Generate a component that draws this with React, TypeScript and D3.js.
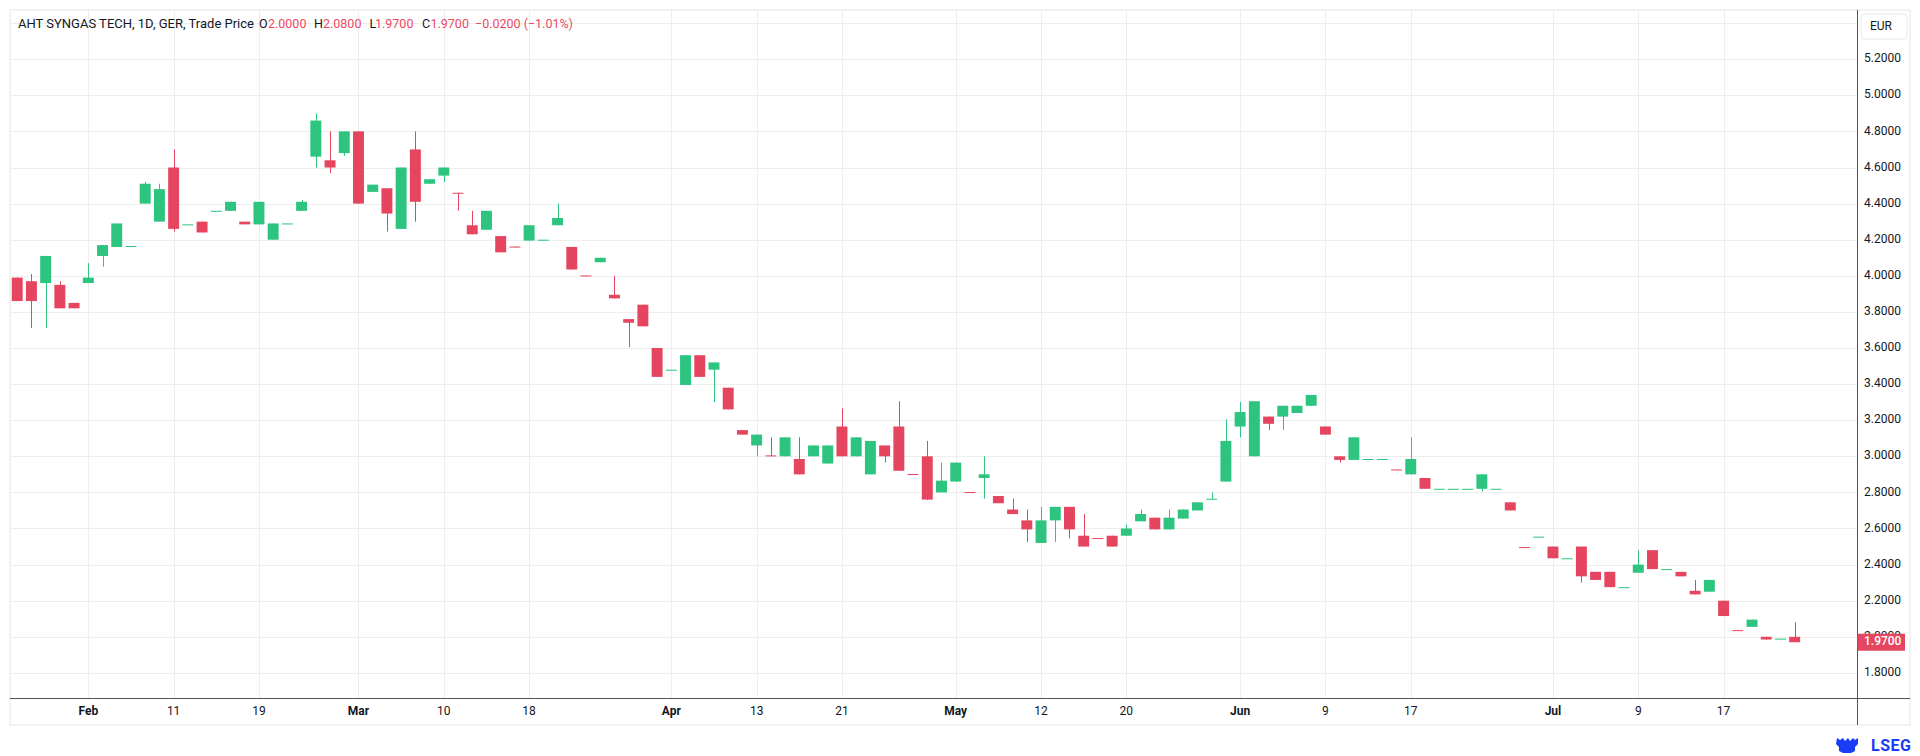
import { useEffect, useRef } from "react";
import * as d3 from "d3";

// daily candles, oldest first
const open = [
  3.99, 3.97, 3.96, 3.95, 3.85, 3.96, 4.11, 4.16, 4.165, 4.40,
  4.30, 4.60, 4.285, 4.30, 4.36, 4.36, 4.30, 4.285, 4.20, 4.29,
  4.36, 4.66, 4.64, 4.68, 4.80, 4.465, 4.485, 4.26, 4.70, 4.51,
  4.555, 4.46, 4.28, 4.255, 4.22, 4.162, 4.195, 4.20, 4.28, 4.16,
  4.002, 4.075, 3.895, 3.76, 3.84, 3.60, 3.48, 3.395, 3.56, 3.48,
  3.38, 3.145, 3.06, 3.005, 3.0, 2.985, 3.0, 2.96, 3.165, 3.0,
  2.90, 3.06, 3.165, 2.902, 3.0, 2.80, 2.86, 2.802, 2.88, 2.78,
  2.705, 2.645, 2.52, 2.645, 2.72, 2.56, 2.547, 2.56, 2.56, 2.64,
  2.66, 2.595, 2.655, 2.70, 2.76, 2.86, 3.165, 3.0, 3.22, 3.22,
  3.24, 3.28, 3.165, 3.0, 2.98, 2.985, 2.985, 2.927, 2.90, 2.88,
  2.82, 2.82, 2.82, 2.82, 2.82, 2.745, 2.497, 2.555, 2.50, 2.435,
  2.50, 2.36, 2.36, 2.275, 2.355, 2.48, 2.375, 2.36, 2.255, 2.25,
  2.20, 2.037, 2.055, 2.0, 1.99, 2.0,
];
const high = [
  3.99, 4.01, 4.11, 3.97, 3.85, 4.07, 4.17, 4.29, 4.165, 4.52,
  4.51, 4.70, 4.285, 4.30, 4.36, 4.41, 4.30, 4.41, 4.29, 4.29,
  4.42, 4.90, 4.80, 4.80, 4.80, 4.505, 4.485, 4.60, 4.80, 4.535,
  4.60, 4.46, 4.36, 4.36, 4.22, 4.162, 4.28, 4.20, 4.40, 4.16,
  4.002, 4.10, 4.0, 3.76, 3.84, 3.60, 3.48, 3.56, 3.56, 3.52,
  3.38, 3.145, 3.12, 3.105, 3.105, 3.105, 3.06, 3.06, 3.265, 3.105,
  3.085, 3.06, 3.305, 2.902, 3.085, 2.965, 2.965, 2.802, 3.0, 2.78,
  2.765, 2.705, 2.72, 2.72, 2.72, 2.68, 2.547, 2.56, 2.62, 2.705,
  2.66, 2.705, 2.705, 2.745, 2.80, 3.205, 3.30, 3.305, 3.22, 3.28,
  3.28, 3.34, 3.165, 3.0, 3.105, 2.985, 2.985, 2.927, 3.105, 2.88,
  2.82, 2.82, 2.82, 2.90, 2.82, 2.745, 2.497, 2.555, 2.50, 2.435,
  2.50, 2.36, 2.36, 2.275, 2.48, 2.48, 2.375, 2.36, 2.315, 2.315,
  2.20, 2.037, 2.095, 2.0, 1.99, 2.08,
];
const low = [
  3.86, 3.71, 3.71, 3.82, 3.82, 3.96, 4.05, 4.16, 4.165, 4.40,
  4.30, 4.245, 4.285, 4.24, 4.36, 4.36, 4.285, 4.285, 4.20, 4.29,
  4.36, 4.60, 4.57, 4.665, 4.40, 4.465, 4.245, 4.26, 4.30, 4.51,
  4.52, 4.36, 4.23, 4.255, 4.13, 4.157, 4.195, 4.20, 4.28, 4.035,
  4.0, 4.075, 3.875, 3.605, 3.72, 3.44, 3.48, 3.395, 3.44, 3.30,
  3.26, 3.12, 3.0, 3.0, 3.0, 2.90, 3.0, 2.96, 3.0, 3.0,
  2.90, 2.965, 2.92, 2.90, 2.76, 2.80, 2.86, 2.80, 2.765, 2.74,
  2.68, 2.525, 2.52, 2.525, 2.545, 2.50, 2.543, 2.50, 2.56, 2.64,
  2.595, 2.595, 2.655, 2.70, 2.76, 2.86, 3.105, 3.0, 3.145, 3.145,
  3.24, 3.28, 3.12, 2.965, 2.98, 2.985, 2.985, 2.923, 2.90, 2.82,
  2.82, 2.82, 2.82, 2.805, 2.82, 2.70, 2.493, 2.555, 2.435, 2.435,
  2.30, 2.315, 2.275, 2.275, 2.355, 2.375, 2.375, 2.335, 2.235, 2.25,
  2.115, 2.033, 2.055, 1.985, 1.99, 1.97,
];
const close = [
  3.86, 3.86, 4.11, 3.82, 3.82, 3.99, 4.17, 4.29, 4.165, 4.51,
  4.48, 4.26, 4.285, 4.24, 4.36, 4.41, 4.285, 4.41, 4.29, 4.29,
  4.41, 4.86, 4.60, 4.80, 4.40, 4.505, 4.345, 4.60, 4.41, 4.535,
  4.60, 4.455, 4.23, 4.36, 4.13, 4.157, 4.28, 4.20, 4.32, 4.035,
  4.0, 4.10, 3.875, 3.74, 3.72, 3.44, 3.48, 3.56, 3.44, 3.52,
  3.26, 3.12, 3.12, 3.0, 3.105, 2.90, 3.06, 3.06, 3.0, 3.105,
  3.085, 3.0, 2.92, 2.90, 2.76, 2.865, 2.965, 2.80, 2.90, 2.74,
  2.68, 2.595, 2.645, 2.72, 2.595, 2.50, 2.543, 2.50, 2.60, 2.68,
  2.595, 2.66, 2.705, 2.745, 2.765, 3.085, 3.245, 3.305, 3.18, 3.28,
  3.28, 3.34, 3.12, 2.98, 3.105, 2.985, 2.985, 2.923, 2.985, 2.82,
  2.82, 2.82, 2.82, 2.90, 2.82, 2.70, 2.493, 2.555, 2.435, 2.435,
  2.335, 2.315, 2.275, 2.275, 2.40, 2.375, 2.375, 2.335, 2.235, 2.315,
  2.115, 2.033, 2.095, 1.985, 1.99, 1.97,
];

// x-axis labels and the candle they sit on
const tickIndex = [5, 11, 17, 24, 30, 36, 46, 52, 58, 66, 72, 78, 86, 92, 98, 108, 114, 120];
const tickText = ["Feb", "11", "19", "Mar", "10", "18", "Apr", "13", "21", "May", "12", "20", "Jun", "9", "17", "Jul", "9", "17"];
const months = ["Feb", "Mar", "Apr", "May", "Jun", "Jul"];

const priceTicks = [1.8, 2.0, 2.2, 2.4, 2.6, 2.8, 3.0, 3.2, 3.4, 3.6, 3.8, 4.0, 4.2, 4.4, 4.6, 4.8, 5.0, 5.2];
const gridTicks = [...priceTicks, 5.4];

const title = "AHT SYNGAS TECH, 1D, GER, Trade Price";
const currency = "EUR";

const UP = "#2cc47e";
const DOWN = "#e5455e";
const TEXT = "#131722";
const FONT = "Roboto, 'Open Sans', sans-serif";

function App() {
  const ref = useRef<SVGSVGElement>(null);

  useEffect(() => {
    const left = 10, top = 10, right = 1857, bottom = 698;
    const frameR = 1910, frameB = 725;

    const svg = d3.select(ref.current);
    svg.selectAll("*").remove();

    const idx = d3.range(close.length);
    const x = d3.scaleBand<number>()
      .domain(idx)
      .range([left + 0.1, 1801.8])
      .paddingInner(0.23)
      .paddingOuter(0.115);
    const cx = (i: number) => (x(i) as number) + x.bandwidth() / 2;

    const y = d3.scaleLinear()
      .domain([1.8, 5.2])
      .range([672.9, 59.2]);

    // outer frame
    svg.append("rect")
      .attr("x", left).attr("y", top)
      .attr("width", frameR - left).attr("height", frameB - top)
      .attr("fill", "#fff")
      .attr("stroke", "#eeeeee")
      .attr("stroke-width", 1.5);

    // grid
    svg.append("g")
      .selectAll("line")
      .data(gridTicks)
      .join("line")
      .attr("x1", left).attr("x2", right)
      .attr("y1", d => Math.round(y(d)) + 0.5)
      .attr("y2", d => Math.round(y(d)) + 0.5)
      .attr("stroke", "#eeeeee");

    svg.append("g")
      .selectAll("line")
      .data(tickIndex)
      .join("line")
      .attr("x1", d => Math.round(cx(d)) + 0.5)
      .attr("x2", d => Math.round(cx(d)) + 0.5)
      .attr("y1", top).attr("y2", bottom)
      .attr("stroke", "#eeeeee");

    // candles
    const candles = svg.append("g")
      .selectAll("g")
      .data(idx)
      .join("g");

    candles.append("line")
      .attr("x1", i => Math.round(cx(i)) + 0.5)
      .attr("x2", i => Math.round(cx(i)) + 0.5)
      .attr("y1", i => y(high[i]))
      .attr("y2", i => y(low[i]))
      .attr("stroke", i => (close[i] >= open[i] ? UP : DOWN))
      .attr("stroke-width", 1);

    candles.append("rect")
      .attr("x", i => x(i) as number)
      .attr("width", x.bandwidth())
      .attr("y", i => y(Math.max(open[i], close[i])))
      .attr("height", i => Math.max(1, y(Math.min(open[i], close[i])) - y(Math.max(open[i], close[i]))))
      .attr("fill", i => (close[i] >= open[i] ? UP : DOWN));

    // axis lines
    svg.append("line")
      .attr("x1", left).attr("x2", frameR)
      .attr("y1", bottom + 0.5).attr("y2", bottom + 0.5)
      .attr("stroke", "#50535e");
    svg.append("line")
      .attr("x1", right + 0.5).attr("x2", right + 0.5)
      .attr("y1", top).attr("y2", frameB)
      .attr("stroke", "#50535e");

    // x labels
    svg.append("g")
      .selectAll("text")
      .data(tickIndex)
      .join("text")
      .attr("x", d => cx(d))
      .attr("y", 712)
      .attr("text-anchor", "middle")
      .attr("dominant-baseline", "middle")
      .attr("font-family", FONT)
      .attr("font-size", 12)
      .attr("font-weight", (_, k) => (months.includes(tickText[k]) ? 700 : 400))
      .attr("fill", TEXT)
      .text((_, k) => tickText[k]);

    // y labels
    const fmt = d3.format(".4f");
    svg.append("g")
      .selectAll("text")
      .data(priceTicks)
      .join("text")
      .attr("x", 1864)
      .attr("y", d => y(d))
      .attr("dominant-baseline", "middle")
      .attr("font-family", FONT)
      .attr("font-size", 12)
      .attr("fill", TEXT)
      .text(d => fmt(d));

    // last price tag
    const last = close.length - 1;
    const lastUp = close[last] >= open[last];
    svg.append("rect")
      .attr("x", right + 0.5).attr("y", y(close[last]) - 8.5)
      .attr("width", 47.5).attr("height", 17)
      .attr("fill", lastUp ? UP : DOWN);
    svg.append("text")
      .attr("x", 1864).attr("y", y(close[last]))
      .attr("dominant-baseline", "middle")
      .attr("font-family", FONT)
      .attr("font-size", 12)
      .attr("font-weight", 500)
      .attr("fill", "#fff")
      .text(fmt(close[last]));

    // currency badge
    svg.append("rect")
      .attr("x", 1861).attr("y", 14)
      .attr("width", 46).attr("height", 25)
      .attr("rx", 4)
      .attr("fill", "#fff")
      .attr("stroke", "#e6e8ee");
    svg.append("text")
      .attr("x", 1881).attr("y", 27)
      .attr("text-anchor", "middle")
      .attr("dominant-baseline", "middle")
      .attr("font-family", FONT)
      .attr("font-size", 12)
      .attr("fill", TEXT)
      .text(currency);

    // legend line
    const chg = close[last] - close[last - 1];
    const pct = (chg / close[last - 1]) * 100;
    const red = "#ec4a62";
    const legend = svg.append("text")
      .attr("y", 25)
      .attr("dominant-baseline", "middle")
      .attr("font-family", FONT)
      .attr("font-size", 12.5)
      .attr("fill", TEXT);
    const seg = (px: number, s: string, c: string) =>
      legend.append("tspan").attr("x", px).attr("fill", c).text(s);
    seg(18, title, TEXT).attr("font-size", 13);
    seg(259, "O", TEXT); seg(268, fmt(open[last]), red);
    seg(314, "H", TEXT); seg(323, fmt(high[last]), red);
    seg(369.5, "L", TEXT); seg(375, fmt(low[last]), red);
    seg(422, "C", TEXT); seg(430.5, fmt(close[last]), red);
    seg(475, `${fmt(chg)} (${d3.format(".2f")(pct)}%)`, red);

    // LSEG mark
    const logo = svg.append("g").attr("fill", "#1a3cf5");
    logo.append("path")
      .attr("d", "M1837,738 l3,2 l3,-2 l2,3 l3,-3 l2,3 l3,-3 l2,2 l3,-2 v6 l-3,3 v4 l-4,2 h-8 l-4,-2 v-4 l-3,-3 z");
    logo.append("text")
      .attr("x", 1871).attr("y", 751)
      .attr("font-family", FONT)
      .attr("font-size", 16)
      .attr("font-weight", 700)
      .attr("letter-spacing", 0.5)
      .text("LSEG");
  }, []);

  return (
    <svg
      ref={ref}
      width={1920}
      height={756}
      style={{ position: "absolute", left: 0, top: 0, background: "#fff" }}
    />
  );
}

export default App;
